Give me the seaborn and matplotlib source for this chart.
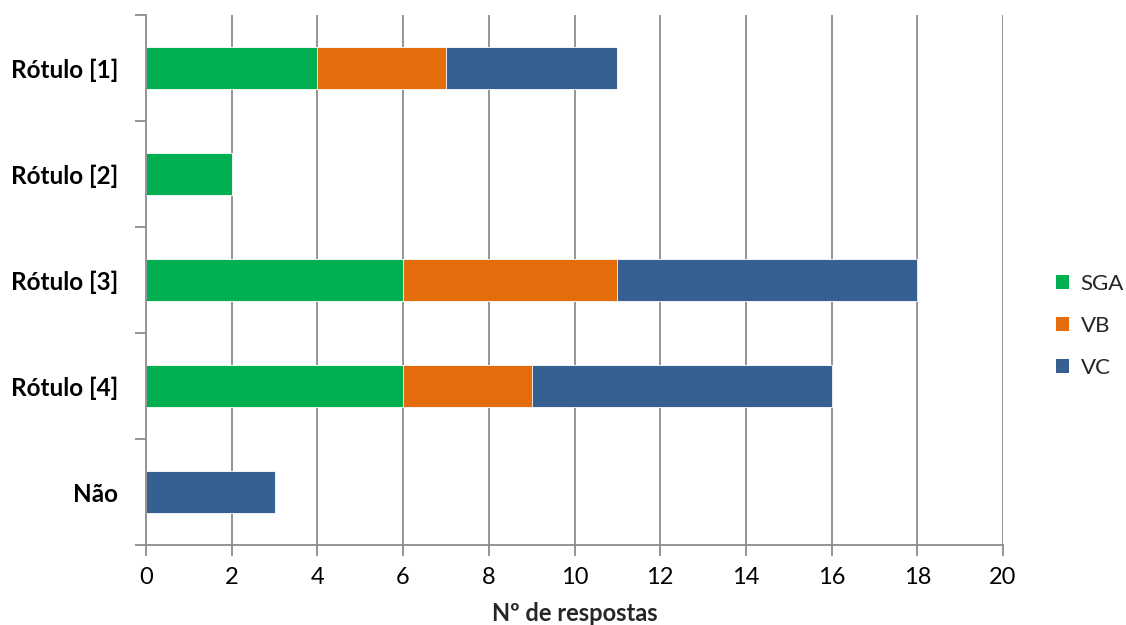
import matplotlib
matplotlib.use("Agg")
import matplotlib.pyplot as plt
from matplotlib.patches import Patch
from matplotlib.ticker import FixedLocator
import seaborn as sns
import pandas as pd
import numpy as np

categories = ["Rótulo [1]", "Rótulo [2]", "Rótulo [3]", "Rótulo [4]", "Não"]
sga = [4, 2, 6, 6, 0]
vb = [3, 0, 5, 3, 0]
vc = [4, 0, 7, 7, 3]
series_names = ["SGA", "VB", "VC"]
colors = {"SGA": "#00B050", "VB": "#E46C0A", "VC": "#376092"}
x_ticks = [0, 2, 4, 6, 8, 10, 12, 14, 16, 18, 20]

sns.set_theme(style="white")
plt.rcParams["font.family"] = ["Lato", "DejaVu Sans"]

df = pd.DataFrame({"categoria": categories, "SGA": sga, "VB": vb, "VC": vc})
# cumulative totals so the layers stack when drawn back to front
df["cum_SGA"] = df["SGA"]
df["cum_VB"] = df["SGA"] + df["VB"]
df["cum_VC"] = df["SGA"] + df["VB"] + df["VC"]

fig = plt.figure(figsize=(11.26, 6.25), dpi=100)
ax = fig.add_axes([146 / 1126, 1 - 545 / 625, (1003 - 146) / 1126, (545 - 15) / 625])

grid_color = "#8C8C8C"
for x in x_ticks[1:]:
    ax.axvline(x, color=grid_color, lw=1.3, zorder=0)

for name in ["VC", "VB", "SGA"]:
    sns.barplot(data=df, x="cum_" + name, y="categoria", orient="h",
                color=colors[name], saturation=1, width=0.4,
                edgecolor="white", linewidth=0.6, ax=ax, zorder=2)

ax.set_xlim(0, 20)
ax.set_ylim(len(categories) - 0.5, -0.5)
ax.xaxis.set_major_locator(FixedLocator(x_ticks))
ax.set_xticklabels([str(t) for t in x_ticks], fontsize=17, color="#000000")
ax.tick_params(axis="x", which="major", bottom=True, length=8, width=1.3,
               color=grid_color, direction="out", pad=8)

ax.yaxis.set_major_locator(FixedLocator(range(len(categories))))
ax.set_yticklabels(categories, fontsize=17.5, fontweight="bold", color="#000000")
ax.yaxis.set_minor_locator(FixedLocator(np.arange(-0.5, len(categories), 1.0)))
ax.tick_params(axis="y", which="major", left=True, length=0, pad=20)
ax.tick_params(axis="y", which="minor", left=True, length=8, width=1.3,
               color=grid_color, direction="out")
ax.tick_params(axis="x", which="minor", bottom=False, length=0)

ax.set_ylabel("")
ax.set_xlabel("Nº de respostas", fontsize=17, fontweight="bold", labelpad=10)

for side in ["top", "right"]:
    ax.spines[side].set_visible(False)
for side in ["left", "bottom"]:
    ax.spines[side].set_color(grid_color)
    ax.spines[side].set_linewidth(1.3)

handles = [Patch(facecolor=colors[n], edgecolor="none", label=n) for n in series_names]
fig.legend(handles=handles, loc="center left", bbox_to_anchor=(1056 / 1126, 1 - 326 / 625),
           frameon=False, fontsize=16, handlelength=0.6, handleheight=0.6,
           handletextpad=0.5, labelspacing=1.0, borderaxespad=0, borderpad=0)

fig.savefig("out.png", dpi=100)
